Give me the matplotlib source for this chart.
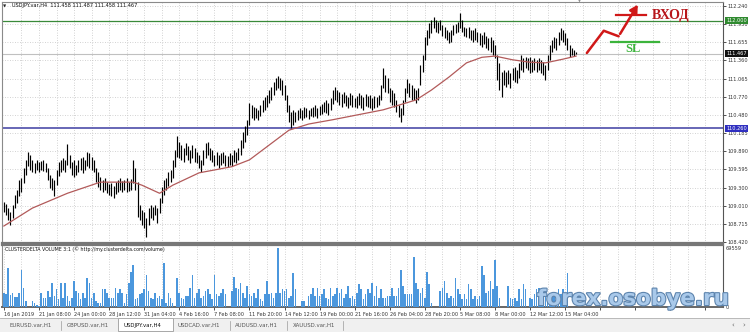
import matplotlib.pyplot as plt
import matplotlib.transforms as mtrans
import matplotlib.patheffects as pe
from matplotlib.patches import Rectangle
from matplotlib.lines import Line2D

# --- data (USDJPY H4) ---
highs = [
    109.07, 109.04, 108.97, 108.91, 109.02, 109.18, 109.26, 109.43, 109.46, 109.62,
    109.75, 109.88, 109.83, 109.75, 109.70, 109.75, 109.72, 109.73, 109.75, 109.70,
    109.62, 109.51, 109.46, 109.43, 109.59, 109.72, 109.75, 109.78, 109.75, 110.01,
    109.83, 109.72, 109.75, 109.67, 109.75, 109.78, 109.80, 109.75, 109.88, 109.86,
    109.80, 109.75, 109.62, 109.55, 109.47, 109.43, 109.46, 109.39, 109.36, 109.38,
    109.33, 109.39, 109.43, 109.46, 109.41, 109.43, 109.46, 109.39, 109.44, 109.75,
    109.62, 109.39, 109.02, 108.94, 108.91, 108.81, 108.97, 109.02, 108.99, 109.02,
    108.97, 109.13, 109.31, 109.43, 109.46, 109.55, 109.59, 109.75, 109.91, 110.14,
    110.04, 109.99, 109.94, 110.02, 109.97, 109.91, 109.99, 109.94, 109.88, 109.83,
    109.75, 109.91, 110.02, 110.04, 109.94, 109.91, 109.83, 109.88, 109.83, 109.86,
    109.88, 109.83, 109.81, 109.86, 109.83, 109.91, 109.88, 109.94, 110.07, 110.20,
    110.30, 110.40, 110.67, 110.64, 110.61, 110.59, 110.56, 110.64, 110.72, 110.77,
    110.80, 110.88, 110.93, 111.01, 111.08, 111.11, 111.08, 111.04, 110.96, 110.80,
    110.64, 110.53, 110.56, 110.53, 110.56, 110.59, 110.56, 110.61, 110.59, 110.56,
    110.59, 110.61, 110.64, 110.59, 110.62, 110.66, 110.69, 110.72, 110.67, 110.75,
    110.88, 110.93, 110.88, 110.85, 110.82, 110.85, 110.80, 110.77, 110.83, 110.80,
    110.75, 110.78, 110.83, 110.80, 110.77, 110.82, 110.78, 110.80, 110.75, 110.78,
    110.77, 110.80, 110.96, 111.24, 111.12, 111.08, 110.91, 110.88, 110.83, 110.72,
    110.64, 110.59, 110.72, 110.91, 111.06, 110.99, 110.96, 110.91, 110.88, 110.91,
    111.29, 111.45, 111.74, 111.85, 111.96, 112.01, 112.06, 112.01, 111.98, 112.01,
    111.93, 111.90, 111.85, 111.82, 111.85, 111.93, 111.95, 111.98, 112.13, 112.01,
    111.90, 111.88, 111.90, 111.85, 111.85, 111.88, 111.82, 111.80, 111.77, 111.82,
    111.75, 111.72, 111.74, 111.69, 111.61, 111.45, 111.32, 111.17, 111.21, 111.17,
    111.21, 111.16, 111.24, 111.25, 111.21, 111.32, 111.45, 111.40, 111.41, 111.40,
    111.41, 111.37, 111.40, 111.37, 111.40, 111.37, 111.33, 111.29, 111.45, 111.61,
    111.69, 111.74, 111.72, 111.82, 111.88, 111.85, 111.80, 111.72, 111.61, 111.56,
    111.53, 111.49,
]
lows = [
    108.91, 108.86, 108.78, 108.70, 108.81, 108.97, 109.05, 109.17, 109.23, 109.38,
    109.51, 109.65, 109.59, 109.55, 109.54, 109.59, 109.55, 109.59, 109.57, 109.55,
    109.43, 109.30, 109.26, 109.17, 109.34, 109.49, 109.55, 109.59, 109.55, 109.67,
    109.62, 109.51, 109.47, 109.51, 109.55, 109.59, 109.54, 109.59, 109.65, 109.62,
    109.59, 109.55, 109.39, 109.31, 109.26, 109.23, 109.26, 109.21, 109.18, 109.17,
    109.13, 109.20, 109.23, 109.26, 109.23, 109.26, 109.23, 109.25, 109.26, 109.38,
    109.26, 108.83, 108.78, 108.70, 108.65, 108.50, 108.70, 108.81, 108.78, 108.86,
    108.73, 108.89, 109.05, 109.18, 109.26, 109.33, 109.39, 109.46, 109.64, 109.80,
    109.78, 109.75, 109.72, 109.83, 109.75, 109.70, 109.78, 109.72, 109.70, 109.62,
    109.55, 109.67, 109.78, 109.83, 109.75, 109.72, 109.65, 109.67, 109.62, 109.67,
    109.70, 109.65, 109.64, 109.67, 109.65, 109.72, 109.70, 109.75, 109.83, 109.94,
    110.04, 110.15, 110.31, 110.43, 110.40, 110.43, 110.40, 110.46, 110.53, 110.56,
    110.61, 110.67, 110.72, 110.80, 110.88, 110.91, 110.88, 110.80, 110.72, 110.53,
    110.36, 110.27, 110.31, 110.36, 110.40, 110.43, 110.40, 110.43, 110.44, 110.41,
    110.46, 110.44, 110.46, 110.43, 110.48, 110.49, 110.53, 110.51, 110.48, 110.56,
    110.66, 110.72, 110.69, 110.64, 110.61, 110.67, 110.62, 110.59, 110.64, 110.61,
    110.61, 110.59, 110.64, 110.59, 110.56, 110.62, 110.61, 110.59, 110.56, 110.59,
    110.61, 110.64, 110.72, 110.91, 110.85, 110.83, 110.69, 110.64, 110.61, 110.53,
    110.44, 110.36, 110.48, 110.69, 110.83, 110.77, 110.72, 110.72, 110.67, 110.72,
    110.96, 111.17, 111.37, 111.61, 111.72, 111.80, 111.88, 111.82, 111.80, 111.85,
    111.75, 111.72, 111.69, 111.64, 111.66, 111.77, 111.80, 111.82, 111.88, 111.82,
    111.75, 111.74, 111.72, 111.69, 111.66, 111.69, 111.66, 111.61, 111.58, 111.63,
    111.56, 111.53, 111.50, 111.45, 111.40, 111.04, 110.88, 110.77, 110.96, 110.93,
    110.98, 110.91, 111.04, 111.01, 110.99, 111.08, 111.21, 111.17, 111.24, 111.21,
    111.16, 111.17, 111.21, 111.17, 111.21, 111.16, 111.12, 111.04, 111.21, 111.37,
    111.50, 111.56, 111.53, 111.61, 111.69, 111.66, 111.61, 111.53, 111.41, 111.45,
    111.43, 111.46,
]

# moving average, read at a few bars
ma_bar = [0, 13, 29, 44, 59, 63, 71, 77, 89, 104, 112, 121, 130, 139, 150,
          173, 188, 195, 203, 211, 218, 224, 232, 240, 247, 255, 261]
ma_val = [108.68, 108.97, 109.21, 109.39, 109.39, 109.34, 109.21, 109.34, 109.54,
          109.64, 109.75, 109.99, 110.23, 110.33, 110.40, 110.56, 110.72, 110.88,
          111.09, 111.32, 111.41, 111.43, 111.37, 111.33, 111.32, 111.38, 111.43]

# cluster delta volume, thousands
volume_k = [
    16.8, 15.6, 45.6, 14.4, 16.8, 12.0, 12.0, 16.8, 43.2, 22.8,
    7.2, 0, 0, 7.2, 4.8, 2.4, 1.2, 16.8, 10.8, 10.8,
    19.2, 12.0, 28.8, 13.2, 21.6, 9.6, 28.8, 10.8, 28.8, 13.2,
    7.2, 10.8, 31.2, 19.2, 16.8, 9.6, 16.8, 10.8, 33.6, 28.8,
    10.8, 16.8, 7.2, 4.8, 4.8, 21.6, 21.6, 16.8, 10.8, 10.8,
    10.8, 22.8, 16.8, 21.6, 16.8, 4.8, 15.6, 28.8, 40.8, 49.2,
    9.6, 10.8, 15.6, 16.8, 21.6, 37.2, 19.2, 10.8, 9.6, 16.8,
    10.8, 13.2, 9.6, 51.6, 4.8, 16.8, 10.8, 4.8, 0, 33.6,
    16.8, 10.8, 9.6, 13.2, 13.2, 22.8, 37.2, 10.8, 16.8, 21.6,
    10.8, 13.2, 19.2, 21.6, 15.6, 9.6, 37.2, 15.6, 13.2, 16.8,
    21.6, 15.6, 0, 0, 19.2, 34.8, 22.8, 21.6, 28.8, 16.8,
    10.8, 25.2, 15.6, 13.2, 16.8, 10.8, 21.6, 9.6, 7.2, 15.6,
    31.2, 15.6, 16.8, 10.8, 16.8, 69.559, 16.8, 21.6, 19.2, 21.6,
    10.8, 13.2, 39.6, 21.6, 0, 0, 7.2, 7.2, 0, 13.2,
    15.6, 22.8, 13.2, 22.8, 13.2, 15.6, 21.6, 10.8, 9.6, 22.8,
    13.2, 15.6, 22.8, 16.8, 21.6, 10.8, 15.6, 25.2, 10.8, 13.2,
    9.6, 16.8, 27.6, 21.6, 9.6, 15.6, 21.6, 16.8, 28.8, 13.2,
    25.2, 10.8, 21.6, 10.8, 10.8, 13.2, 13.2, 22.8, 13.2, 13.2,
    22.8, 43.2, 25.2, 15.6, 15.6, 15.6, 15.6, 58.8, 28.8, 21.6,
    16.8, 22.8, 10.8, 40.8, 27.6, 4.8, 0, 0, 0, 19.2,
    22.8, 31.2, 16.8, 10.8, 13.2, 10.8, 33.6, 21.6, 15.6, 9.6,
    15.6, 9.6, 27.6, 21.6, 9.6, 13.2, 9.6, 13.2, 48.0, 37.2,
    16.8, 19.2, 31.2, 21.6, 55.2, 25.2, 10.8, 0, 0, 0,
    25.2, 10.8, 9.6, 10.8, 7.2, 21.6, 9.6, 27.6, 21.6, 0,
    10.8, 9.6, 15.6, 21.6, 22.8, 21.6, 19.2, 15.6, 9.6, 16.8,
    15.6, 15.6, 13.2, 21.6, 15.6, 21.6, 13.2, 39.6,
]

price_ticks = [112.240, 111.950, 111.655, 111.360, 111.065, 110.770, 110.480,
               110.185, 109.890, 109.595, 109.300, 109.010, 108.715, 108.420]
date_labels = ["16 Jan 2019", "21 Jan 08:00", "24 Jan 00:00", "28 Jan 12:00",
               "31 Jan 04:00", "4 Feb 16:00", "7 Feb 08:00", "11 Feb 20:00",
               "14 Feb 12:00", "19 Feb 00:00", "21 Feb 16:00", "26 Feb 04:00",
               "28 Feb 20:00", "5 Mar 08:00", "8 Mar 00:00", "12 Mar 12:00",
               "15 Mar 04:00"]
tabs = ["EURUSD.var,H1", "GBPUSD.var,H1", "USDJPY.var,H4", "USDCAD.var,H1",
        "AUDUSD.var,H1", "XAUUSD.var,H1"]

entry_level = 112.000
stop_level = 110.260
bid = 111.467
vol_max = 69559

W, H = 750, 332
def fx(px):
    return px / W
def fy(py):
    return 1 - py / H

fig = plt.figure(figsize=(7.5, 3.32), dpi=100)
fig.patch.set_facecolor('white')

x_lo, x_hi = -0.86, 327.3
ax = fig.add_axes([fx(2), fy(243), fx(721), 241 / H])
vax = fig.add_axes([fx(2), fy(307), fx(721), 62 / H])

grid_kw = dict(color='#c4c4c4', linestyle=(0, (1, 2)), linewidth=0.6)
small = 3.6

# --- price window ---
bars = list(range(len(highs)))
ax.vlines(bars, lows, highs, color='black', linewidth=0.85, zorder=3)
ax.plot(ma_bar, ma_val, color='#b25a5a', linewidth=0.9, zorder=4)

ax.axhline(bid, color='#c0c0c0', linewidth=0.8, zorder=2)
ax.axhline(entry_level, color='#3a8a3a', linewidth=0.9, zorder=2)
ax.axhline(stop_level, color='#5a5ab0', linewidth=1.3, zorder=2)

ax.set_xlim(x_lo, x_hi)
ax.set_ylim(108.405, 112.305)
ax.yaxis.tick_right()
ax.set_yticks(price_ticks)
ax.set_yticklabels([f"{p:.3f}" for p in price_ticks], fontsize=small)
ax.tick_params(axis='y', length=2, width=0.6, pad=1, colors='#333333')
ax.set_xticks(range(8, 330, 8))
ax.tick_params(axis='x', length=0, labelbottom=False)
ax.grid(True, **grid_kw)
ax.set_axisbelow(True)
for s in ax.spines.values():
    s.set_color('#8a8a8a')
    s.set_linewidth(0.8)
ax.spines['right'].set_color('#555555')
ax.spines['bottom'].set_linewidth(1.6)
ax.spines['bottom'].set_color('#777777')

# boxed price labels on the axis
btr = mtrans.blended_transform_factory(ax.transAxes, ax.transData)
for lvl, bg in [(entry_level, '#2f8a2f'), (bid, '#111111'), (stop_level, '#2f2fc0')]:
    ax.text(1.0045, lvl, f"{lvl:.3f}", transform=btr, fontsize=small, color='white',
            ha='left', va='center', zorder=10, clip_on=False,
            bbox=dict(boxstyle='square,pad=0.2', fc=bg, ec='none'))

# trade idea drawing
ax.plot([265.9, 273.6, 280.4], [111.48, 111.84, 111.75], color='#d01818',
        linewidth=1.8, solid_capstyle='round', zorder=6)
ax.annotate('', xy=(289.8, 112.30), xytext=(280.4, 111.75),
            arrowprops=dict(arrowstyle='-|>,head_length=0.45,head_width=0.25',
                            color='#d01818', lw=1.8), zorder=6, annotation_clip=False)
ax.plot([279.0, 293.0], [112.09, 112.09], color='#d01818', linewidth=1.6, zorder=6)
ax.plot([276.8, 299.0], [111.66, 111.66], color='#3cb43c', linewidth=1.6, zorder=6)
ax.text(295.4, 112.09, 'ВХОД', fontsize=10, fontweight='bold', family='Liberation Serif',
        color='#b8161b', ha='left', va='center', zorder=7)
ax.text(283.6, 111.54, 'SL', fontsize=9, fontweight='bold', family='Liberation Serif',
        color='#3cb43c', ha='left', va='center', zorder=7)

# --- volume window ---
vbars = list(range(len(volume_k)))
vax.bar(vbars, [v * 1000 for v in volume_k], width=0.72, color='#4b97dd',
        edgecolor='none', zorder=3)
vax.set_xlim(x_lo, x_hi)
vax.set_ylim(0, 73000)
vax.yaxis.tick_right()
vax.set_yticks([0, vol_max])
vax.set_yticklabels(['0', str(vol_max)], fontsize=small)
vax.tick_params(axis='y', length=0, pad=2, colors='#333333')
vax.set_xticks(range(0, 330, 16))
vax.set_xticks(range(8, 330, 16), minor=True)
vax.set_xticklabels(date_labels + [''] * (len(range(0, 330, 16)) - len(date_labels)),
                    fontsize=small, ha='left')
vax.tick_params(axis='x', which='major', length=2, width=0.6, pad=1.5, colors='#333333')
vax.tick_params(axis='x', which='minor', length=0)
vax.grid(True, axis='x', which='both', **grid_kw)
vax.set_axisbelow(True)
for s in vax.spines.values():
    s.set_color('#8a8a8a')
    s.set_linewidth(0.8)
vax.spines['right'].set_color('#555555')
vax.spines['top'].set_linewidth(1.6)
vax.spines['top'].set_color('#777777')
vax.spines['bottom'].set_linewidth(1.4)
vax.spines['bottom'].set_color('#666666')

# --- header texts ---
fig.text(fx(3), fy(6), '▼', fontsize=3, color='#222222', va='center')
fig.text(fx(12), fy(6), 'USDJPY.var,H4  111.458 111.487 111.458 111.467',
         fontsize=small, color='#111111', va='center')
fig.text(fx(5), fy(249.5), 'CLUSTERDELTA VOLUME 3:1 (© http://my.clusterdelta.com/volume)',
         fontsize=small * 0.95, color='#111111', va='center')
fig.text(fx(579), fy(1.5), '▼', fontsize=2.8, color='#909090', ha='center', va='center')

# --- tab bar ---
fig.patches.append(Rectangle((0, 0), 1, 14 / H, transform=fig.transFigure,
                             facecolor='#f0f0f0', edgecolor='none', zorder=0))
fig.lines.append(Line2D([0, 1], [fy(318), fy(318)], transform=fig.transFigure,
                        color='#b0b0b0', linewidth=0.6))
fig.patches.append(Rectangle((fx(118), fy(331)), fx(55), 13 / H, transform=fig.transFigure,
                             facecolor='white', edgecolor='#9a9a9a', linewidth=0.6, zorder=1))
tab_x = [10, 67, 124, 178, 235, 293]
for name, tx in zip(tabs, tab_x):
    fig.text(fx(tx), fy(325.5), name, fontsize=3.9,
             color='#111111' if name.startswith('USDJPY') else '#555555', va='center')
for sx in [61, 230, 287, 343]:
    fig.lines.append(Line2D([fx(sx), fx(sx)], [fy(321), fy(330)], transform=fig.transFigure,
                            color='#9a9a9a', linewidth=0.5))
fig.text(fx(733), fy(325.5), '‹', fontsize=5, color='#666666', ha='center', va='center')
fig.text(fx(744), fy(325.5), '›', fontsize=5, color='#666666', ha='center', va='center')

# --- watermark ---
fig.text(fx(537), fy(299), 'forex.osobye.ru', fontsize=15.5, fontweight='bold',
         color='#a9c9ea', va='center', ha='left', zorder=20,
         path_effects=[pe.withStroke(linewidth=1.6, foreground='#5d84ad')])

fig.savefig('out.png', dpi=100)
